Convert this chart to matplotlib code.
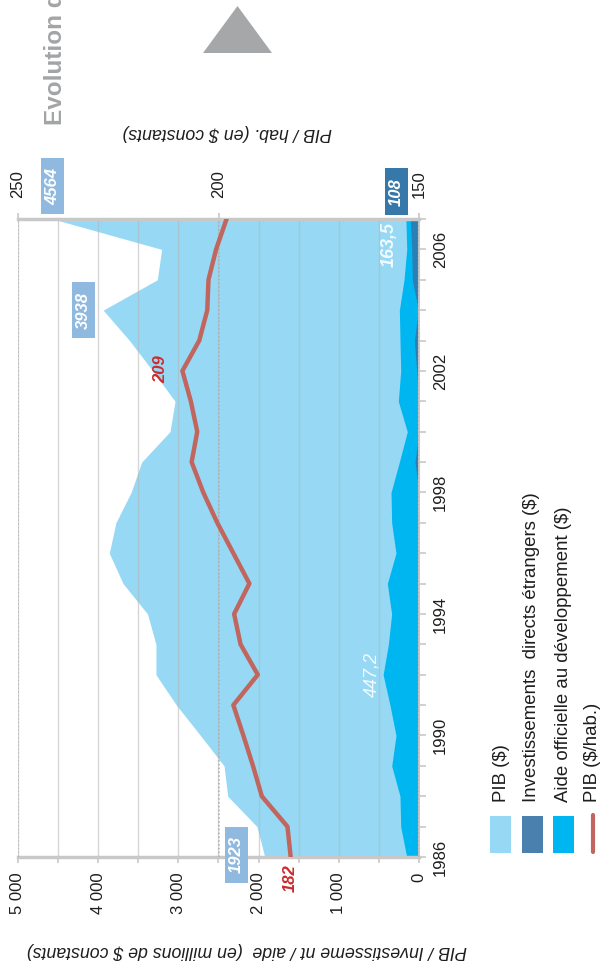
import numpy as np
import matplotlib.pyplot as plt
from matplotlib.patches import Polygon, Rectangle
from matplotlib.lines import Line2D

# the page prints this chart turned a quarter turn, so it is drawn that way:
# years run upward, amounts run to the left
plt.rcParams['font.family'] = ['Liberation Sans', 'DejaVu Sans']

years = np.arange(1986, 2008)
pib = [1923, 2020, 2385, 2431, 2725, 3025, 3280, 3280, 3385, 3690, 3862,
       3780, 3590, 3458, 3105, 3042, 3320, 3610, 3938, 3263, 3209, 4564]
aide = [153, 228, 237, 340, 287, 362, 447.2, 382, 341, 395, 287,
        341, 349, 245, 146, 258, 228, 237, 245, 187, 153, 163.5]
ide = [0, 0, 0, 0, 0, 20, 10, 0, 0, 0, 0,
       0, 0, 50, 0, 0, 29, 58, 8, 83, 91, 108]
pib_hab = [182, 182.8, 189.2, 191.4, 193.8, 196.3, 190.2, 194.5, 196.1, 192.3, 196.3,
           200.3, 203.8, 206.7, 205.3, 206.9, 209, 204.8, 202.8, 202.5, 200.6, 198.0]

amount_ticks = np.arange(0, 5001, 500)
amount_labels = ['0', '', '1 000', '', '2 000', '', '3 000', '', '4 000', '', '5 000']
hab_ticks = [150, 200, 250]
year_labels = [str(y) if (y - 1986) % 4 == 0 else '' for y in years]
legend_labels = ['PIB ($)', 'Investissements  directs étrangers ($)',
                 'Aide officielle au développement ($)', 'PIB ($/hab.)']

c_pib = '#97d9f5'
c_aide = '#00b6f0'
c_ide = '#2b7fb4'
c_hab = '#c0665e'
c_axis = '#c8c8c8'
c_text = '#1e1e1e'
W, H = 604, 966

fig = plt.figure(figsize=(W / 100, H / 100), dpi=100)
ax = fig.add_axes([18 / W, (H - 857) / H, 401 / W, 638 / H])

ax.fill_betweenx(years, 0, pib, color=c_pib, lw=0)
ax.fill_betweenx(years, 0, aide, color=c_aide, lw=0)
ax.fill_betweenx(years, 0, ide, color=c_ide, lw=0)
ax.set_xlim(5000, 0)
ax.set_ylim(1986, 2007)
ax.set_xticks(amount_ticks)
ax.set_xticklabels(amount_labels)
ax.yaxis.tick_right()
ax.set_yticks(years)
ax.set_yticklabels(year_labels)
ax.grid(axis='x', color='#b4b4b4', lw=1, alpha=0.55)
ax.tick_params(axis='x', length=4, width=1.2, color=c_axis, pad=7,
               labelrotation=90, labelsize=12, labelcolor=c_text)
ax.tick_params(axis='y', length=5, width=1.2, color=c_axis, pad=5,
               labelrotation=90, labelsize=12, labelcolor=c_text)
for lbl in ax.get_yticklabels():
    lbl.set_va('center')
ax.spines['left'].set_visible(False)
ax.spines['top'].set_visible(False)
ax.spines['bottom'].set_color(c_axis)
ax.spines['bottom'].set_linewidth(2.5)
ax.spines['right'].set_color(c_axis)
ax.spines['right'].set_linewidth(1.5)

ax2 = ax.twiny()
ax2.plot(pib_hab, years, color=c_hab, lw=3.2, zorder=3)
ax2.set_xlim(250, 150)
ax2.set_xticks(hab_ticks)
ax2.grid(axis='x', color='#b0b0b0', lw=1.1, ls=(0, (1, 1.5)))
ax2.tick_params(axis='x', length=4, width=1.2, color=c_axis, pad=11,
                labelrotation=90, labelsize=12, labelcolor=c_text)
for s in ['left', 'right', 'bottom']:
    ax2.spines[s].set_visible(False)
ax2.spines['top'].set_color(c_axis)
ax2.spines['top'].set_linewidth(2.5)


def box_label(axis, x, y, text, face):
    axis.text(x, y, text, rotation=90, ha='center', va='center', color='white',
              fontsize=12, fontweight='bold', style='italic', clip_on=False, zorder=6,
              bbox=dict(boxstyle='square,pad=0.57', facecolor=face, edgecolor='none',
                        mutation_aspect=0.42))


box_label(ax, pib[-1], 2008.07, '4564', '#8fb9df')
box_label(ax, pib[18] + 250, 2004.0, '3938', '#8fb9df')
box_label(ax, pib[0] + 350, 1986.07, '1923', '#8fb9df')
box_label(ax, ide[-1] + 170, 2007.9, '108', '#3578a9')

ax2.text(pib_hab[0], 1985.3, '182', rotation=90, ha='center', va='center', color='#cc2a2e',
         fontsize=12, fontweight='bold', style='italic', clip_on=False)
ax2.text(pib_hab[16] + 5.5, 2002.05, '209', rotation=90, ha='center', va='center',
         color='#cc2a2e', fontsize=12, fontweight='bold', style='italic')
ax.text(aide[-1] + 205, 2006.15, '163,5', rotation=90, ha='center', va='center',
        color='#f2fbff', fontsize=13, style='italic', fontweight='bold')
ax.text(aide[6] + 135, 1992.0, '447,2', rotation=90, ha='center', va='center',
        color='#f2fbff', fontsize=13, style='italic')

# axis titles, upside down like the page
fig.text(247 / W, 1 - 950 / H, 'PIB / Investisseme nt / aide  (en millions de $ constants)',
         rotation=180, ha='center', va='center', style='italic', fontsize=12.8, color=c_text)
fig.text(227 / W, 1 - 133 / H, 'PIB / hab. (en $ constants)',
         rotation=180, ha='center', va='center', style='italic', fontsize=12.8, color=c_text)

fig.text(56 / W, 1 - 125 / H, 'Evolution du PIB', rotation=90, ha='center', va='bottom',
         fontsize=17.5, fontweight='bold', color='#a3a4a6')
fig.add_artist(Polygon([(203 / W, 1 - 53 / H), (272 / W, 1 - 53 / H), (237.5 / W, 1 - 6 / H)],
                       closed=True, transform=fig.transFigure, fc='#a6a7a9', ec='none'))

# legend
for x0, col in zip([490, 522, 553], [c_pib, '#4a80ad', c_aide]):
    fig.add_artist(Rectangle((x0 / W, 1 - 853 / H), 21 / W, 37 / H,
                             transform=fig.transFigure, fc=col, ec='none'))
fig.add_artist(Line2D([593 / W, 593 / W], [1 - 852 / H, 1 - 815 / H], transform=fig.transFigure,
                      color=c_hab, lw=3, solid_capstyle='round'))
for xc, lab in zip([501, 531, 563, 592.5], legend_labels):
    fig.text(xc / W, 1 - 802 / H, lab, rotation=90, ha='center', va='bottom',
             fontsize=13.4, color=c_text)

fig.savefig('out.png', dpi=100)
